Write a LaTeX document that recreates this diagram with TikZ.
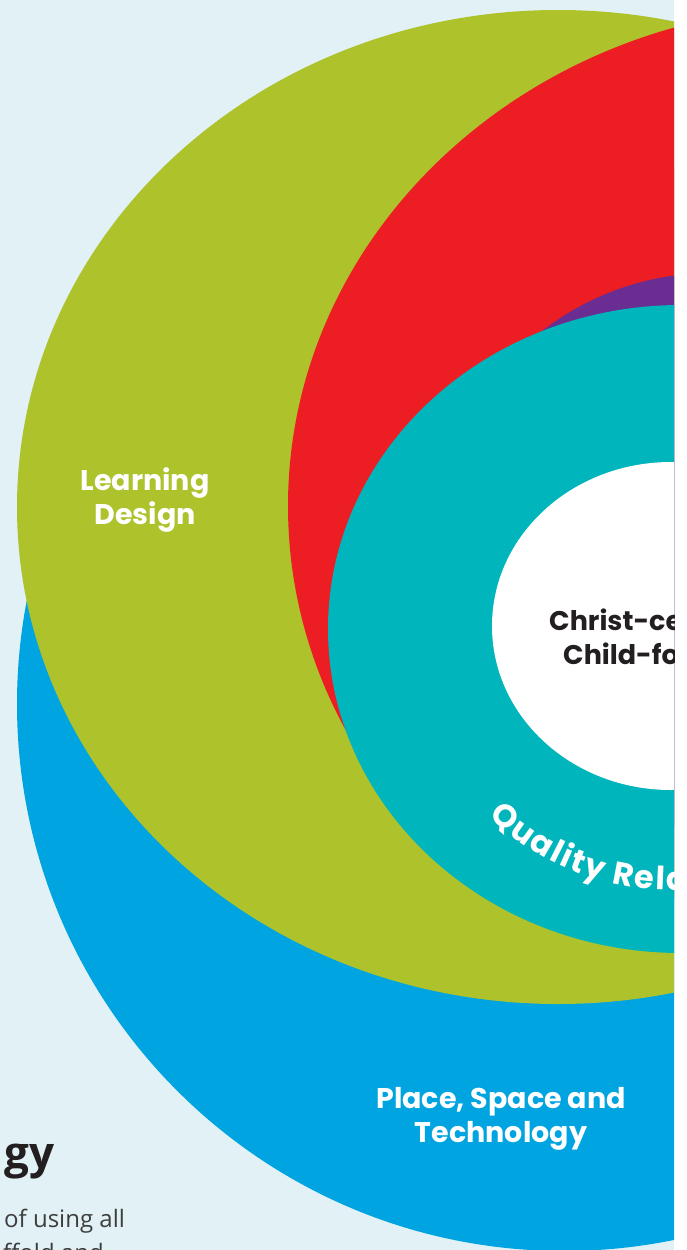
\documentclass[tikz,border=0pt]{standalone}
\usepackage{fontspec}
\usetikzlibrary{positioning}
\usetikzlibrary{decorations.text}

\newfontfamily\labelfont{Poppins}
\newfontfamily\bodyfont{Open Sans}

\definecolor{bgblue}{RGB}{225,241,245}
\definecolor{ringblue}{RGB}{0,164,224}
\definecolor{ringgreen}{RGB}{174,194,44}
\definecolor{ringred}{RGB}{236,30,36}
\definecolor{ringpurple}{RGB}{106,45,145}
\definecolor{ringteal}{RGB}{0,181,187}
\definecolor{coretext}{RGB}{35,31,32}
\definecolor{bodygrey}{RGB}{62,62,62}

\begin{document}
\begin{tikzpicture}[x=1pt, y=-1pt]
        \tikzstyle{ring_label} = [text=white, align=center, inner sep=0pt, font=\labelfont\bfseries\fontsize{28.5}{34}\selectfont]
        \tikzstyle{core_label} = [text=coretext, inner sep=0pt, anchor=base west, font=\labelfont\bfseries\fontsize{27}{34}\selectfont]
        \tikzstyle{body_text} = [text=bodygrey, inner sep=0pt, anchor=base west, font=\bodyfont\fontsize{24}{33}\selectfont]

        \useasboundingbox (0,0) rectangle (686,1250);
        \fill[white] (0,0) rectangle (686,1250);
        \fill[bgblue] (0,0) rectangle (674,1250);

        % centres of the rings
        \coordinate (blue_c) at (564,704);
        \coordinate (green_c) at (558,507);
        \coordinate (red_c) at (833,506);
        \coordinate (purple_c) at (712,551);
        \coordinate (teal_c) at (681,629);
        \coordinate (core_c) at (671,626);

        \begin{scope}
            \clip (0,0) rectangle (674,1250);

            \fill[ringblue] (blue_c) circle [radius=547];
            \fill[ringgreen] (green_c) ellipse [x radius=541, y radius=497];
            \begin{scope}
                \clip (0,0) -- (686,0) -- (686,900) -- (450,860) -- (300,760) -- (0,760) -- cycle;
                \fill[ringred] (red_c) ellipse [x radius=545, y radius=500];
            \end{scope}
            \fill[ringpurple] (purple_c) circle [radius=278];
            \fill[ringteal] (teal_c) ellipse [x radius=353, y radius=324];
            \fill[white] (core_c) ellipse [x radius=179, y radius=164];

            \node[ring_label] (learning) at (145,500) {Learning\\Design};
            \node[ring_label] (place) at (501,1119) {Place, Space and\\Technology};

            \node[core_label] (christ) at (549,630) {Christ-ce};
            \node[core_label] (child) at (563,664) {Child-fo};

            \path [
                decorate,
                decoration={
                    text effects along path,
                    text={Quality Rela},
                    text effects/.cd,
                        text along path,
                        characters={text=white, font=\labelfont\bfseries\fontsize{32}{32}\selectfont},
                        character widths={inner xsep=0.9pt, font=\labelfont\bfseries\fontsize{32}{32}\selectfont}
                }
            ] (core_c) ++(134:264) arc [start angle=134, end angle=40, radius=264];

            \node[text=coretext, inner sep=0pt, anchor=base east, font=\bodyfont\bfseries\fontsize{44}{44}\selectfont] (heading) at (55,1168) {gy};
            \node[body_text] (body1) at (4,1227) {of using all};
            \node[body_text] (body2) at (3,1261) {ffold and};
        \end{scope}

    \end{tikzpicture}
\end{document}
